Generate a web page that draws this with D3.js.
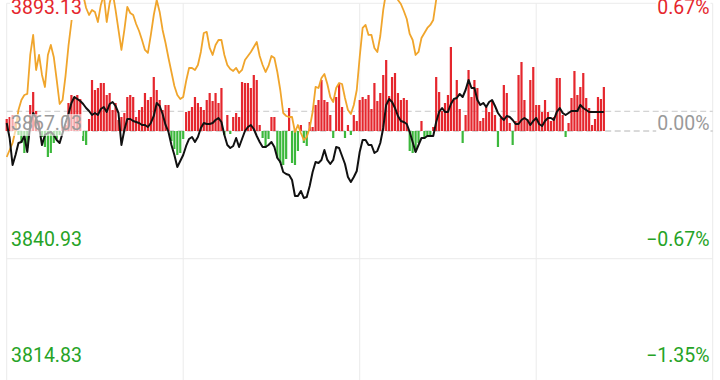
<!DOCTYPE html>
<html lang="zh">
<head>
<meta charset="UTF-8">
<title>分时走势</title>
<script src="https://d3js.org/d3.v7.min.js"></script>
<style>
    body { margin: 0; background: #fff; }
    text { font-family: Roboto, "Noto Sans", sans-serif; }
</style>
</head>
<body>
<div id="chart"></div>
<script>
// minute-by-minute index price (black)
const price = [
    3868.67,3865.60,3860.08,3862.13,3864.58,3864.78,3866.01,3862.74,3868.26,3870.71,
    3869.69,3867.85,3864.17,3866.22,3866.62,3866.83,3866.22,3865.19,3864.58,3866.62,
    3868.67,3870.51,3872.76,3873.98,3873.57,3873.17,3872.55,3871.73,3871.12,3870.30,
    3870.71,3870.30,3871.53,3871.94,3870.92,3872.55,3872.96,3872.14,3870.71,3864.17,
    3867.24,3869.49,3869.49,3869.08,3868.87,3868.67,3868.26,3868.26,3867.85,3868.67,
    3870.10,3872.76,3872.14,3870.51,3868.26,3866.83,3864.17,3862.13,3859.67,3860.90,
    3862.13,3863.97,3865.40,3865.81,3864.78,3865.81,3867.65,3868.67,3868.46,3868.46,
    3868.67,3869.28,3869.69,3868.87,3866.22,3864.17,3863.56,3863.97,3865.60,3863.76,
    3865.40,3867.03,3867.85,3868.26,3867.44,3866.01,3864.78,3863.76,3863.76,3864.17,
    3864.78,3863.76,3861.51,3860.70,3858.65,3858.24,3858.04,3857.02,3853.75,3853.75,
    3854.77,3853.34,3853.54,3855.79,3858.65,3860.70,3860.49,3861.11,3863.15,3861.11,
    3860.29,3861.11,3863.76,3863.56,3861.92,3860.29,3857.63,3856.61,3857.63,3858.86,
    3862.74,3865.19,3865.19,3864.17,3864.17,3862.54,3862.95,3864.58,3867.65,3872.35,
    3873.57,3872.96,3871.73,3870.10,3869.08,3868.87,3868.46,3866.83,3864.78,3862.74,
    3864.17,3865.60,3865.60,3866.01,3866.01,3866.01,3868.87,3870.92,3871.73,3870.92,
    3870.92,3872.55,3873.57,3873.78,3874.60,3873.98,3875.41,3877.46,3875.82,3875.82,
    3873.37,3872.35,3872.76,3871.94,3872.96,3873.37,3872.14,3870.71,3869.89,3869.28,
    3870.10,3869.89,3869.28,3868.46,3868.46,3869.28,3869.69,3869.28,3868.26,3869.08,
    3869.69,3868.46,3868.06,3869.08,3869.69,3869.69,3869.28,3870.92,3871.73,3870.71,
    3870.30,3870.71,3871.12,3871.12,3871.12,3872.35,3871.73,3871.33,3870.92,3870.92,
    3870.92,3870.92,3870.92,3870.92
];

// orange line (leaves the top of the frame after ~147 min)
const avgLine = [
    3861.72,3863.15,3864.58,3867.24,3871.33,3873.37,3874.39,3874.60,3882.57,3886.66,
    3879.50,3882.57,3878.48,3876.03,3882.57,3884.61,3882.16,3877.46,3872.55,3873.37,
    3878.28,3884.41,3889.31,3894.83,3896.88,3896.88,3894.83,3892.17,3890.74,3891.77,
    3891.36,3889.31,3892.79,3894.83,3889.31,3893.20,3895.45,3891.77,3887.68,3883.59,
    3887.68,3892.38,3891.15,3890.74,3888.90,3887.47,3885.63,3883.59,3882.98,3886.66,
    3890.74,3893.81,3891.36,3887.68,3885.02,3881.95,3879.09,3876.23,3874.39,3873.57,
    3873.98,3877.25,3879.91,3879.91,3879.50,3880.52,3883.18,3887.06,3887.27,3884.00,
    3882.57,3884.61,3885.63,3885.63,3882.57,3880.52,3879.71,3879.30,3879.91,3878.89,
    3879.50,3881.55,3882.36,3883.18,3884.20,3885.22,3882.36,3880.52,3879.09,3880.32,
    3882.36,3881.95,3879.09,3875.41,3870.71,3870.10,3869.89,3869.89,3866.83,3868.26,
    3866.62,3865.19,3865.81,3867.65,3870.92,3876.03,3875.82,3877.87,3878.68,3876.64,
    3873.98,3872.96,3875.82,3876.84,3876.64,3873.78,3871.33,3870.51,3872.35,3875.41,
    3882.16,3888.09,3888.70,3886.66,3886.66,3884.00,3883.18,3886.45,3891.77,3895.45,
    3896.88,3896.88,3895.45,3893.81,3892.99,3891.56,3889.93,3886.86,3885.63,3882.57,
    3883.18,3886.04,3887.06,3888.09,3888.70,3889.72,3893.81,3896.26
];

// red / green indicator bars
const bars = [
    12,14,16,8,-4,-12,-22,-17,26,39,
    20,10,-6,-16,-26,-22,-12,-8,-4,4,
    6,28,36,34,36,32,-10,-14,12,51,
    41,43,48,48,36,38,21,28,11,14,
    18,34,36,34,14,21,24,38,31,34,
    54,41,31,21,26,26,-10,-18,-24,-22,
    -8,19,20,24,34,28,24,21,31,38,
    30,38,28,43,-4,16,-3,14,18,14,
    49,48,48,43,56,51,6,-7,-17,-8,
    14,14,-27,-32,-34,-28,23,-32,-34,-20,
    6,-12,-15,9,4,26,31,51,31,29,
    16,-7,34,48,24,-7,6,-4,16,10,
    31,34,32,36,22,48,30,38,56,71,
    35,54,58,38,31,33,31,-20,-22,-21,
    -12,10,-8,-6,-5,4,54,39,20,28,
    36,84,31,51,22,-12,16,61,34,51,
    43,10,13,24,19,30,16,-16,13,46,
    38,8,-14,10,56,69,31,12,51,64,
    26,26,19,31,19,10,14,53,53,16,
    -6,8,33,60,36,44,58,33,23,6,
    12,34,32,44
];

const prevClose = 3867.03;
const refLevel = 3871.06;
const priceTicks = [3893.13, 3867.03, 3840.93, 3814.83];
const pctTicks = ["0.67%", "0.00%", "\u22120.67%", "\u22121.35%"];
const timeTicks = [0, 60, 120, 180, 240];

const width = 720, height = 380;
const red = "#e5262d", green = "#26a326", barGreen = "#3cb83c", gray = "#9a9a9a";

const svg = d3.select("#chart").append("svg")
    .attr("width", width)
    .attr("height", height);

const x = d3.scaleLinear().domain([0, 240]).range([6.7, 712.7]);
const y = d3.scaleLinear().domain([3814.83, 3893.13]).range([386.4, 3.3]);
const barY = d3.scaleLinear().domain([0, 100]).range([y(prevClose), y(prevClose) - 100]);

// grid
svg.append("g").selectAll("line")
    .data(timeTicks)
    .enter().append("line")
    .attr("x1", d => x(d)).attr("x2", d => x(d))
    .attr("y1", y(3893.13)).attr("y2", height)
    .attr("stroke", "#ebebeb");

svg.append("g").selectAll("line")
    .data(priceTicks.filter(d => d !== prevClose))
    .enter().append("line")
    .attr("x1", x(0)).attr("x2", x(240))
    .attr("y1", d => y(d)).attr("y2", d => y(d))
    .attr("stroke", "#ebebeb");

[refLevel, prevClose].forEach((v, i) => {
    svg.append("line")
        .attr("x1", x(0)).attr("x2", x(240))
        .attr("y1", y(v)).attr("y2", y(v))
        .attr("stroke", i ? "#b4b4b4" : "#c8c8c8")
        .attr("stroke-dasharray", "6,3.5");
});

// bars
svg.append("g").selectAll("rect")
    .data(bars)
    .enter().append("rect")
    .attr("x", (d, i) => x(i) - 1.1)
    .attr("width", 2.2)
    .attr("y", d => d >= 0 ? barY(d) : barY(0))
    .attr("height", d => Math.abs(barY(d) - barY(0)))
    .attr("fill", d => d >= 0 ? red : barGreen);

const line = d3.line()
    .x((d, i) => x(i))
    .y(d => y(d));

svg.append("path")
    .datum(avgLine)
    .attr("d", line)
    .attr("fill", "none")
    .attr("stroke", "#f0a52c")
    .attr("stroke-width", 1.8)
    .attr("stroke-linejoin", "round");

svg.append("path")
    .datum(price)
    .attr("d", line)
    .attr("fill", "none")
    .attr("stroke", "#111")
    .attr("stroke-width", 2)
    .attr("stroke-linejoin", "round");

// axis labels, spread evenly down the panel
const labelY = d3.scaleLinear().domain([0, 3]).range([14, 362]);
const colorOf = i => i === 0 ? red : (i === 1 ? gray : green);

function addLabel(txt, xPos, i, anchor) {
    const g = svg.append("g");
    const t = g.append("text")
        .attr("x", xPos)
        .attr("y", labelY(i))
        .attr("text-anchor", anchor)
        .attr("font-size", 19.5)
        .attr("fill", colorOf(i))
        .text(txt);
    const bb = t.node().getBBox();
    g.insert("rect", "text")
        .attr("x", bb.x - 1).attr("y", bb.y + 2)
        .attr("width", bb.width + 2).attr("height", bb.height - 1)
        .attr("fill", "#fff")
        .attr("fill-opacity", i === 1 && anchor === "start" ? 0.6 : 1);
}

priceTicks.forEach((d, i) => addLabel(d.toFixed(2), 11, i, "start"));
pctTicks.forEach((d, i) => addLabel(d, 709.5, i, "end"));
</script>
</body>
</html>
